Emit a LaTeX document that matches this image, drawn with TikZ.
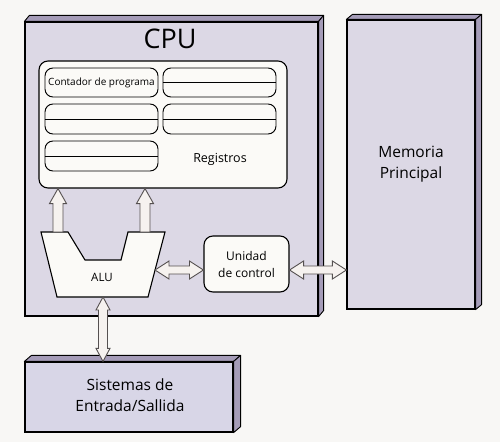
\documentclass[tikz,border=0pt]{standalone}
\usepackage{fontspec}
\setmainfont{Open Sans}
\usetikzlibrary{calc}
\definecolor{bgc}{HTML}{F8F7F5}
\definecolor{lav}{HTML}{DCD8E5}
\definecolor{lavio}{HTML}{D8D6E7}
\definecolor{side}{HTML}{A59CB8}
\definecolor{paper}{HTML}{FBFAF7}
\definecolor{arrline}{HTML}{555050}
\definecolor{arrfill}{HTML}{F6F2EF}
\tikzset{
  box3d/.style={draw=black, line width=1.2pt, fill=lav, inner sep=0pt},
  sidef/.style={draw=black, line width=0.9pt, fill=side, line join=round},
  rbox/.style={draw=black, line width=0.95pt, fill=paper, rounded corners=8pt, inner sep=0pt},
  blk/.style={draw=arrline, line width=0.9pt, fill=arrfill, line join=miter},
  lbl/.style={inner sep=0pt, align=center}
}
\newcommand{\hdbl}[2]{\draw[blk] let \p1=(#1), \p2=(#2) in
  (\x1,\y1) -- (\x1+14pt,\y1+9pt) -- (\x1+14pt,\y1+4pt) -- (\x2-14pt,\y1+4pt) -- (\x2-14pt,\y1+9pt) --
  (\x2,\y1) -- (\x2-14pt,\y1-9pt) -- (\x2-14pt,\y1-4pt) -- (\x1+14pt,\y1-4pt) -- (\x1+14pt,\y1-9pt) -- cycle;}
\newcommand{\vdbl}[2]{\draw[blk] let \p1=(#1), \p2=(#2) in
  (\x1,\y1) -- (\x1+7pt,\y1-13pt) -- (\x1+4.5pt,\y1-13pt) -- (\x1+4.5pt,\y2+13pt) -- (\x1+7pt,\y2+13pt) --
  (\x1,\y2) -- (\x1-7pt,\y2+13pt) -- (\x1-4.5pt,\y2+13pt) -- (\x1-4.5pt,\y1-13pt) -- (\x1-7pt,\y1-13pt) -- cycle;}
\newcommand{\vup}[2]{\draw[blk] let \p1=(#1), \p2=(#2) in
  (\x1-5pt,\y1) -- (\x1-5pt,\y2-15pt) -- (\x1-8.5pt,\y2-15pt) -- (\x1,\y2) -- (\x1+8.5pt,\y2-15pt) --
  (\x1+5pt,\y2-15pt) -- (\x1+5pt,\y1) -- cycle;}
\begin{document}
\begin{tikzpicture}[x=1pt,y=-1pt]
\fill[bgc] (0,0) rectangle (500,442);
\useasboundingbox (0,0) rectangle (500,442);

% CPU
\node[box3d, minimum width=293pt, minimum height=294pt] (cpu) at (171.5,169) {};
\draw[sidef] (cpu.north west) -- ++(5,-6) -- ($(cpu.north east)+(5pt,6pt)$) -- (cpu.north east) -- cycle;
\draw[sidef] (cpu.north east) -- ++(5,-6) -- ($(cpu.south east)+(5pt,6pt)$) -- (cpu.south east) -- cycle;
\node[lbl, font=\fontsize{27}{30}\selectfont] (cputxt) at (170,39) {CPU};

% Memory
\node[box3d, minimum width=128pt, minimum height=289pt] (mem) at (411,164.5) {};
\draw[sidef] (mem.north west) -- ++(6,-5) -- ($(mem.north east)+(6pt,5pt)$) -- (mem.north east) -- cycle;
\draw[sidef] (mem.north east) -- ++(6,-5) -- ($(mem.south east)+(6pt,5pt)$) -- (mem.south east) -- cycle;
\node[lbl, font=\fontsize{15.5}{21}\selectfont] (memtxt) at (mem.center) {Memoria\\Principal};

% I/O
\node[box3d, fill=lavio, minimum width=208pt, minimum height=70pt] (io) at (129,397) {};
\draw[sidef] (io.north west) -- ++(7,-6) -- ($(io.north east)+(7pt,6pt)$) -- (io.north east) -- cycle;
\draw[sidef] (io.north east) -- ++(7,-6) -- ($(io.south east)+(7pt,6pt)$) -- (io.south east) -- cycle;
\node[lbl, font=\fontsize{15.5}{21}\selectfont] (iotxt) at (130,395) {Sistemas de\\Entrada/Sallida};

% Registers
\node[rbox, line width=1.1pt, rounded corners=9pt, minimum width=248pt, minimum height=127pt] (regs) at (163,124.5) {};
\node[rbox, minimum width=113pt, minimum height=29pt, font=\fontsize{10}{11}\selectfont] (r1) at (101.5,82.5) {Contador de programa};
\node[rbox, minimum width=113pt, minimum height=29pt] (r2) at (219.5,82.5) {};
\node[rbox, minimum width=113pt, minimum height=30pt] (r3) at (101.5,119) {};
\node[rbox, minimum width=113pt, minimum height=30pt] (r4) at (219.5,119) {};
\node[rbox, minimum width=113pt, minimum height=30pt] (r5) at (101.5,156) {};
\foreach \r in {r2,r3,r4,r5} \draw[line width=0.95pt] (\r.west) -- (\r.east);
\node[lbl, font=\fontsize{12.5}{14}\selectfont] (regtxt) at (220,159) {Registros};

% ALU
\draw[draw=black, line width=1.1pt, fill=paper, line join=miter]
  (41,232) -- (68,232) -- (85,260) -- (121,260) -- (128,232) -- (165,232) -- (148,297) -- (57,297) -- cycle;
\node[lbl, font=\fontsize{11.5}{13}\selectfont] (alu) at (102,277) {ALU};

% Control unit
\node[rbox, line width=1.1pt, rounded corners=9pt, minimum width=85pt, minimum height=56pt, font=\fontsize{12}{17}\selectfont, align=center] (uc) at (246.5,264) {Unidad\\de control};

% connectors
\coordinate (u1) at (58,232);
\coordinate (u2) at (145,232);
\vup{u1}{regs.south -| u1}
\vup{u2}{regs.south -| u2}
\coordinate (h1) at (155,270);
\hdbl{h1}{uc.west |- h1}
\coordinate (h2) at (uc.east |- h1);
\hdbl{h2}{mem.west |- h1}
\coordinate (v1) at (103,297);
\vdbl{v1}{io.north -| v1}
\end{tikzpicture}
\end{document}
